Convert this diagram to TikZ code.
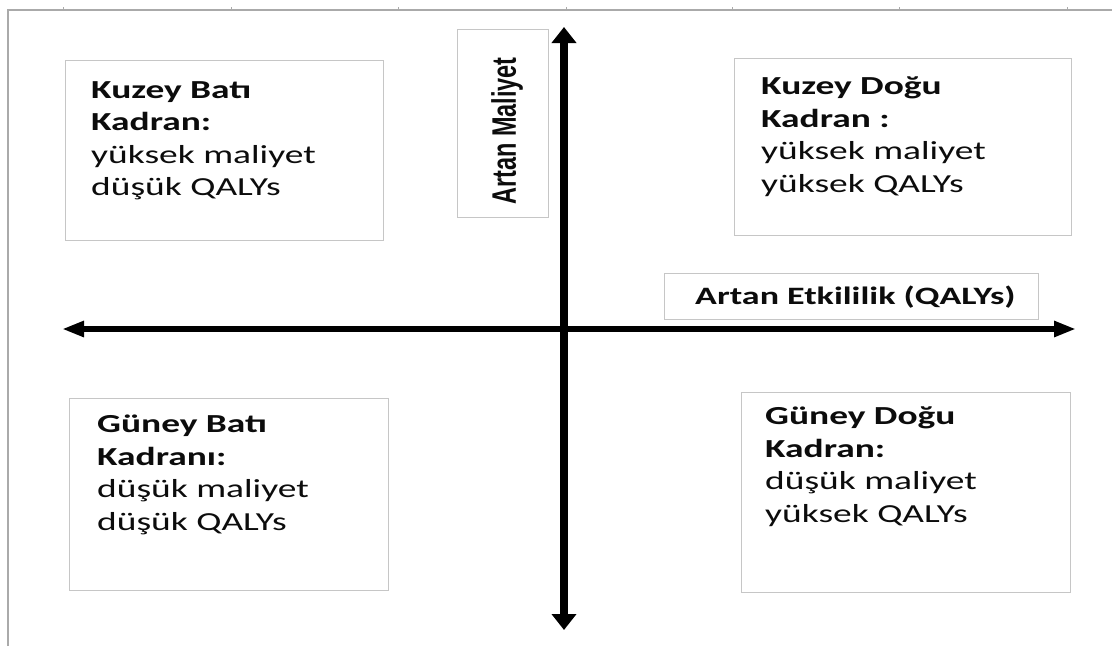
\documentclass[tikz,border=0pt]{standalone}
\usepackage{fontspec}
\setmainfont{Carlito}
\newfontfamily\quadfont[FakeStretch=1.44]{Carlito}
\newfontfamily\axisfont[FakeStretch=0.69]{Liberation Sans}
\usetikzlibrary{arrows.meta,calc}

\definecolor{framegray}{RGB}{170,170,170}
\definecolor{boxgray}{RGB}{198,198,198}
\definecolor{inkblack}{RGB}{12,12,12}

\begin{document}
\begin{tikzpicture}[x=1pt,y=-1pt,
  quadbox/.style={draw=boxgray,line width=1.4pt,fill=white,inner sep=0pt,anchor=north west},
  quadtext/.style={inner sep=0pt,anchor=north west,align=left,text=inkblack,
    font=\quadfont\fontsize{26}{32.5}\selectfont},
  haxis/.style={line width=5.5pt,-{Triangle[length=22pt,width=15pt]}},
  vaxis/.style={line width=7.5pt,-{Triangle[length=16pt,width=24pt]}},
  frameline/.style={draw=framegray,line width=1.3pt}
]
\useasboundingbox (0,0) rectangle (1112,646);
\fill[white] (0,0) rectangle (1112,646);

% page frame with ruler ticks
\draw[frameline] (8,646) -- (8,10) -- (1112,10);
\foreach \t in {63,231,398,566,732,899,1067}
  \draw[draw=framegray,line width=0.8pt] (\t,10) -- (\t,7);

% quadrant boxes
\node[quadbox,minimum width=318pt,minimum height=180pt] (nw) at (65,60) {};
\node[quadbox,minimum width=337pt,minimum height=177pt] (ne) at (734,58) {};
\node[quadbox,minimum width=319pt,minimum height=192pt] (sw) at (69,398) {};
\node[quadbox,minimum width=329pt,minimum height=200pt] (se) at (741,392) {};

\node[quadtext] (nwt) at ($(nw.north west)+(26,21)$)
  {\textbf{Kuzey Batı}\\ \textbf{Kadran:}\\ yüksek maliyet\\ düşük QALYs};
\node[quadtext] (net) at ($(ne.north west)+(27,19)$)
  {\textbf{Kuzey Doğu}\\ \textbf{Kadran :}\\ yüksek maliyet\\ yüksek QALYs};
\node[quadtext] (swt) at ($(sw.north west)+(28,17)$)
  {\textbf{Güney Batı}\\ \textbf{Kadranı:}\\ düşük maliyet\\ düşük QALYs};
\node[quadtext] (set) at ($(se.north west)+(24,15)$)
  {\textbf{Güney Doğu}\\ \textbf{Kadran:}\\ düşük maliyet\\ yüksek QALYs};

% axis label boxes
\node[quadbox,minimum width=91pt,minimum height=188pt] (costbox) at (457,29) {};
\node[rotate=90,inner sep=0pt,text=inkblack,font=\axisfont\bfseries\fontsize{34}{40}\selectfont]
  (costlbl) at (507,131) {Artan Maliyet};
\node[quadbox,minimum width=374pt,minimum height=46pt] (effbox) at (664,273) {};
\node[inner sep=0pt,anchor=west,text=inkblack,font=\quadfont\bfseries\fontsize{25}{30}\selectfont]
  (efflbl) at (695,297) {Artan Etkililik (QALYs)};

% axes
\coordinate (origin) at (564,329);
\coordinate (xneg) at (62,329);
\coordinate (xpos) at (1076,329);
\coordinate (ypos) at (564,27);
\coordinate (yneg) at (564,630);
\draw[haxis] (origin) -- (xpos);
\draw[haxis] (origin) -- (xneg);
\draw[vaxis] (origin) -- (ypos);
\draw[vaxis] (origin) -- (yneg);
\end{tikzpicture}
\end{document}
